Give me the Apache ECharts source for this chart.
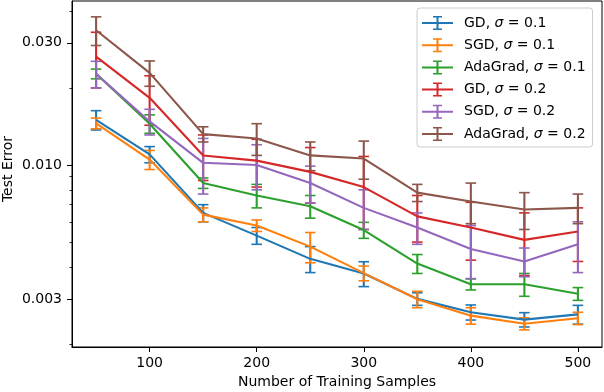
<!DOCTYPE html>
<html>
<head>
<meta charset="utf-8">
<script src="https://cdn.jsdelivr.net/npm/echarts@6/dist/echarts.min.js"></script>
<style>html,body{margin:0;padding:0;background:#fff;}#chart{width:604px;height:392px;}</style>
</head>
<body>
<div id="chart"></div>
<script>
const xValues = [50, 100, 150, 200, 250, 300, 350, 400, 450, 500];

const gd1 = [0.0150, 0.0110, 0.0065, 0.0053, 0.0043, 0.00377, 0.00300, 0.00266, 0.00249, 0.00261];
const gd1Err = [0.0013, 0.0008, 0.0005, 0.0004, 0.0005, 0.00042, 0.00017, 0.00018, 0.00016, 0.00022];
const sgd1 = [0.01455, 0.0105, 0.0064, 0.0058, 0.0048, 0.00378, 0.00299, 0.00258, 0.00240, 0.00252];
const sgd1Err = [0.0007, 0.0009, 0.0004, 0.0003, 0.00065, 0.00025, 0.00022, 0.00019, 0.00013, 0.00014];
const ada1 = [0.0227, 0.0145, 0.0085, 0.0076, 0.0069, 0.00557, 0.00412, 0.00342, 0.00342, 0.00314];
const ada1Err = [0.0010, 0.0012, 0.0004, 0.0008, 0.0007, 0.0004, 0.00035, 0.00017, 0.00035, 0.00018];
const gd2 = [0.0265, 0.0183, 0.0109, 0.0104, 0.0094, 0.0082, 0.0063, 0.0057, 0.0051, 0.0055];
const gd2Err = [0.0065, 0.0040, 0.0022, 0.0022, 0.0023, 0.0026, 0.0013, 0.00145, 0.0014, 0.0013];
const sgd2 = [0.0227, 0.0148, 0.0102, 0.0100, 0.0085, 0.0068, 0.0057, 0.0047, 0.0042, 0.0049];
const sgd2Err = [0.0027, 0.0017, 0.0025, 0.0020, 0.0014, 0.0012, 0.0008, 0.0011, 0.00054, 0.0011];
const ada2 = [0.0336, 0.0229, 0.0132, 0.0127, 0.0109, 0.0106, 0.0078, 0.0072, 0.0067, 0.0068];
const ada2Err = [0.0043, 0.0026, 0.0009, 0.0018, 0.0014, 0.0018, 0.0006, 0.0013, 0.0011, 0.0009];

const seriesNames = ['GD, σ = 0.1', 'SGD, σ = 0.1', 'AdaGrad, σ = 0.1', 'GD, σ = 0.2', 'SGD, σ = 0.2', 'AdaGrad, σ = 0.2'];
const seriesMeans = [gd1, sgd1, ada1, gd2, sgd2, ada2];
const seriesErrs = [gd1Err, sgd1Err, ada1Err, gd2Err, sgd2Err, ada2Err];
const seriesColors = ['#1f77b4', '#ff7f0e', '#2ca02c', '#d62728', '#9467bd', '#8c564b'];

const xTicks = [100, 200, 300, 400, 500];
const yTickValues = [0.003, 0.01, 0.03];
const yTickLabels = ['0.003', '0.010', '0.030'];
const yMinorTickValues = [0.002, 0.004, 0.005, 0.006, 0.007, 0.008, 0.009, 0.02, 0.04];

const xMin = 27.5, xMax = 522.5;
const yMin = 0.001946, yMax = 0.04371;
const FONT = 'DejaVu Sans';

const lg = v => Math.log10(v);

const chart = echarts.init(document.getElementById('chart'), null, {renderer: 'canvas'});

const series = [];
seriesNames.forEach((name, i) => {
  const color = seriesColors[i];
  series.push({
    name: '_line' + i,
    type: 'line',
    xAxisIndex: 0, yAxisIndex: 0,
    data: xValues.map((x, k) => [x, seriesMeans[i][k]]),
    symbol: 'none',
    lineStyle: {color: color, width: 2.1},
    itemStyle: {color: color},
    silent: true,
    z: 2
  });
  series.push({
    name: name,
    type: 'custom',
    xAxisIndex: 0, yAxisIndex: 0,
    itemStyle: {color: color},
    encode: {x: 0, y: [1, 2]},
    data: xValues.map((x, k) => [x, seriesMeans[i][k] - seriesErrs[i][k], seriesMeans[i][k] + seriesErrs[i][k]]),
    renderItem: function (params, api) {
      const x = api.value(0);
      const pLo = api.coord([x, api.value(1)]);
      const pHi = api.coord([x, api.value(2)]);
      const hw = 5.3;
      const barStyle = {stroke: color, lineWidth: 2.1, fill: null};
      const capStyle = {stroke: color, lineWidth: 1.6, fill: null};
      return {
        type: 'group',
        children: [
          {type: 'line', shape: {x1: pLo[0], y1: pLo[1], x2: pHi[0], y2: pHi[1]}, style: barStyle},
          {type: 'line', shape: {x1: pLo[0] - hw, y1: pLo[1], x2: pLo[0] + hw, y2: pLo[1]}, style: capStyle},
          {type: 'line', shape: {x1: pHi[0] - hw, y1: pHi[1], x2: pHi[0] + hw, y2: pHi[1]}, style: capStyle}
        ]
      };
    },
    silent: true,
    z: 2
  });
});

const legendIcon = 'path://M0,6H31V8H0Z M14.5,0H16.5V14H14.5Z M11,0H20V1.5H11Z M11,12.5H20V14H11Z M37,6L37,8Z';

const option = {
  animation: false,
  backgroundColor: '#ffffff',
  textStyle: {fontFamily: FONT},
  grid: {left: 72, right: 2, top: 1, bottom: 45, containLabel: false, outerBoundsMode: 'none', show: true, borderColor: '#000', borderWidth: 1, backgroundColor: 'transparent'},
  legend: {
    orient: 'vertical',
    left: 417, top: 8,
    padding: [8, 7, 6, 5],
    itemWidth: 37, itemHeight: 14, itemGap: 8.2,
    backgroundColor: 'rgba(255,255,255,0.8)',
    borderColor: '#cccccc', borderWidth: 1, borderRadius: 3,
    data: seriesNames.map(n => ({name: n, icon: legendIcon})),
    formatter: function (name) {
      const parts = name.split('σ');
      return '{n|' + parts[0] + '}{i|σ}{n|' + parts[1] + '}';
    },
    textStyle: {
      fontFamily: FONT, fontSize: 14, color: '#000',
      rich: {
        n: {fontFamily: FONT, fontSize: 14, color: '#000'},
        i: {fontFamily: FONT, fontSize: 14, color: '#000', fontStyle: 'italic'}
      }
    },
    selectedMode: false
  },
  xAxis: [{
    type: 'value', min: xMin, max: xMax,
    name: 'Number of Training Samples', nameLocation: 'middle', nameGap: 28, nameMoveOverlap: false,
    nameTextStyle: {fontFamily: FONT, fontSize: 14, color: '#000'},
    axisLine: {show: true, onZero: false, lineStyle: {color: '#000', width: 1}},
    axisTick: {show: true, length: 5, customValues: xTicks, lineStyle: {color: '#000', width: 1}},
    axisLabel: {show: true, customValues: xTicks, margin: 9, fontFamily: FONT, fontSize: 14, color: '#000'},
    splitLine: {show: false}
  }],
  yAxis: [{
    type: 'log', logBase: 10, min: yMin, max: yMax,
    position: 'left',
    axisLine: {show: true, lineStyle: {color: '#000', width: 1}},
    axisTick: {show: false}, axisLabel: {show: false},
    splitLine: {show: false}, minorTick: {show: false}, minorSplitLine: {show: false}
  }, {
    type: 'value', min: lg(yMin), max: lg(yMax),
    position: 'left',
    name: 'Test Error', nameLocation: 'middle', nameGap: 57, nameRotate: 90, nameMoveOverlap: false,
    nameTextStyle: {fontFamily: FONT, fontSize: 14, color: '#000', padding: [0, 0, 0, 10]},
    axisLine: {show: false},
    axisTick: {show: true, length: 5, customValues: yTickValues.map(lg), lineStyle: {color: '#000', width: 1}},
    axisLabel: {
      show: true, customValues: yTickValues.map(lg), margin: 10,
      fontFamily: FONT, fontSize: 14, color: '#000',
      formatter: function (v) {
        let best = 0;
        yTickValues.forEach((t, k) => { if (Math.abs(lg(t) - v) < Math.abs(lg(yTickValues[best]) - v)) best = k; });
        return yTickLabels[best];
      }
    },
    splitLine: {show: false}
  }, {
    type: 'value', min: lg(yMin), max: lg(yMax),
    position: 'left',
    axisLine: {show: false},
    axisTick: {show: true, length: 2.6, customValues: yMinorTickValues.map(lg), lineStyle: {color: '#000', width: 0.8}},
    axisLabel: {show: false},
    splitLine: {show: false}
  }],
  series: series
};

chart.setOption(option);
</script>
</body>
</html>
